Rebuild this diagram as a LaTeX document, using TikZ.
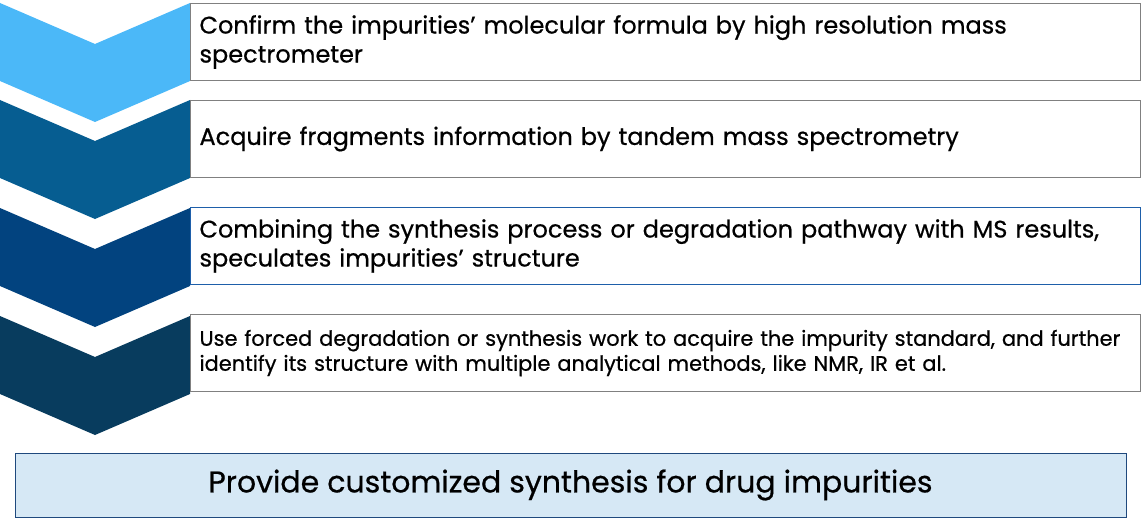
\documentclass[tikz,border=0pt]{standalone}
\usepackage{fontspec}
\setmainfont{Poppins}[UprightFeatures={FakeBold=0.6}]
\usetikzlibrary{positioning}
\definecolor{chevA}{RGB}{75,184,248}
\definecolor{chevB}{RGB}{6,93,145}
\definecolor{chevC}{RGB}{2,67,127}
\definecolor{chevD}{RGB}{8,60,94}
\definecolor{boxgray}{RGB}{128,128,128}
\definecolor{boxblue}{RGB}{30,95,170}
\definecolor{offerfill}{RGB}{214,232,245}
\definecolor{offerline}{RGB}{31,73,125}
\tikzset{
  stepbox/.style={draw=boxgray, line width=1pt, minimum width=950pt, minimum height=77pt,
    text width=932pt, align=left, inner xsep=9pt, inner ysep=0pt, font=\fontsize{24}{29}\selectfont},
}
\begin{document}
\begin{tikzpicture}[x=1pt, y=-1pt, line join=miter]
	\useasboundingbox (0,0) rectangle (1145,524);
	% chevrons
	\foreach \t/\c in {3/chevA, 100/chevB, 208/chevC, 316/chevD}{
		\fill[\c] (0,\t) -- (95,\t+41) -- (190,\t) -- (190,\t+78) -- (95,\t+119) -- (0,\t+78) -- cycle;
	}
	% steps
	\node[stepbox, anchor=north west] (hrms) at (190,3)
		{Confirm the impurities’ molecular formula by high resolution mass\\spectrometer};
	\node[stepbox, below=19pt of hrms] (tandem)
		{Acquire fragments information by tandem mass spectrometry};
	\node[stepbox, draw=boxblue, below=29pt of tandem] (speculate)
		{Combining the synthesis process or degradation pathway with MS results,\\speculates impurities’ structure};
	\node[stepbox, below=29pt of speculate, font=\fontsize{20.9}{25}\selectfont] (confirm)
		{Use forced degradation or synthesis work to acquire the impurity standard, and further\\identify its structure with multiple analytical methods, like NMR, IR et al.};
	% offer
	\node[draw=offerline, fill=offerfill, line width=1pt, minimum width=1111pt, minimum height=64pt,
		font=\fontsize{30}{36}\selectfont] (offer) at (570.5,485)
		{Provide customized synthesis for drug impurities};
\end{tikzpicture}
\end{document}
